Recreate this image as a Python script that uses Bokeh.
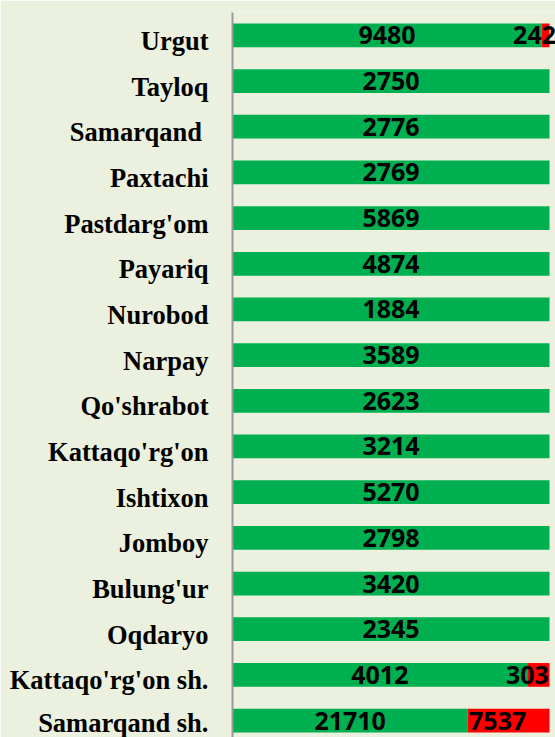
from bokeh.plotting import figure
from bokeh.models import ColumnDataSource, Range1d, FixedTicker
from bokeh.core.properties import value
from bokeh.embed import file_html
from bokeh.resources import INLINE

districts = ["Urgut", "Tayloq", "Samarqand ", "Paxtachi", "Pastdarg'om", "Payariq",
             "Nurobod", "Narpay", "Qo'shrabot", "Kattaqo'rg'on", "Ishtixon", "Jomboy",
             "Bulung'ur", "Oqdaryo", "Kattaqo'rg'on sh.", "Samarqand sh."]
green_vals = [9480, 2750, 2776, 2769, 5869, 4874, 1884, 3589, 2623, 3214, 5270, 2798,
              3420, 2345, 4012, 21710]
red_vals = [242, 0, 0, 0, 0, 0, 0, 0, 0, 0, 0, 0, 0, 0, 303, 7537]

GREEN = "#00B050"
RED = "#FF0000"
BG = "#EBF1DE"

idx = list(range(len(districts)))
totals = [g + r for g, r in zip(green_vals, red_vals)]
gfrac = [g / t for g, t in zip(green_vals, totals)]
src = ColumnDataSource(dict(
    y=idx,
    g0=[0.0] * len(idx),
    g1=gfrac,
    r1=[1.0] * len(idx),
    gx=[f / 2 for f in gfrac],
    glab=[str(v) for v in green_vals],
))
ri = [i for i, r in enumerate(red_vals) if r > 0]
rsrc = ColumnDataSource(dict(
    y=ri,
    rx=[(gfrac[i] + 1.0) / 2 for i in ri],
    rlab=[str(red_vals[i]) for i in ri],
))

p = figure(width=555, height=737, output_backend="svg", toolbar_location=None,
           x_range=Range1d(0, 323 / 317), y_range=Range1d(15.37, -0.5),
           x_axis_location=None, min_border_left=232, min_border_right=0,
           min_border_top=12, min_border_bottom=0)
p.background_fill_color = BG
p.border_fill_color = BG
p.outline_line_color = None
p.grid.visible = False

h = 0.52
p.hbar(y="y", left="g0", right="g1", height=h, source=src, color=GREEN, line_color=None)
p.hbar(y="y", left="g1", right="r1", height=h, source=src, color=RED, line_color=None)

p.text(x="gx", y="y", text="glab", source=src, text_align="center", text_baseline="middle",
       text_font=value("Open Sans"), text_font_style="bold", text_font_size="25px",
       text_color="black")
p.text(x="rx", y="y", text="rlab", source=rsrc, text_align="center", text_baseline="middle",
       text_font=value("Open Sans"), text_font_style="bold", text_font_size="25px",
       text_color="black", x_offset=-11)

off = 0.12
ticks = [i + off for i in idx]
yax = p.yaxis[0]
yax.ticker = FixedTicker(ticks=ticks)
yax.major_label_overrides = {t: n for t, n in zip(ticks, districts)}
yax.major_label_text_font = "Liberation Serif"
yax.major_label_text_font_style = "bold"
yax.major_label_text_font_size = "26.5px"
yax.major_label_text_color = "black"
yax.major_label_standoff = 18
yax.major_tick_line_color = None
yax.minor_tick_line_color = None
yax.axis_line_color = "#9A9A9A"
yax.axis_line_width = 2

open("out.html", "w").write(file_html(p, INLINE))
